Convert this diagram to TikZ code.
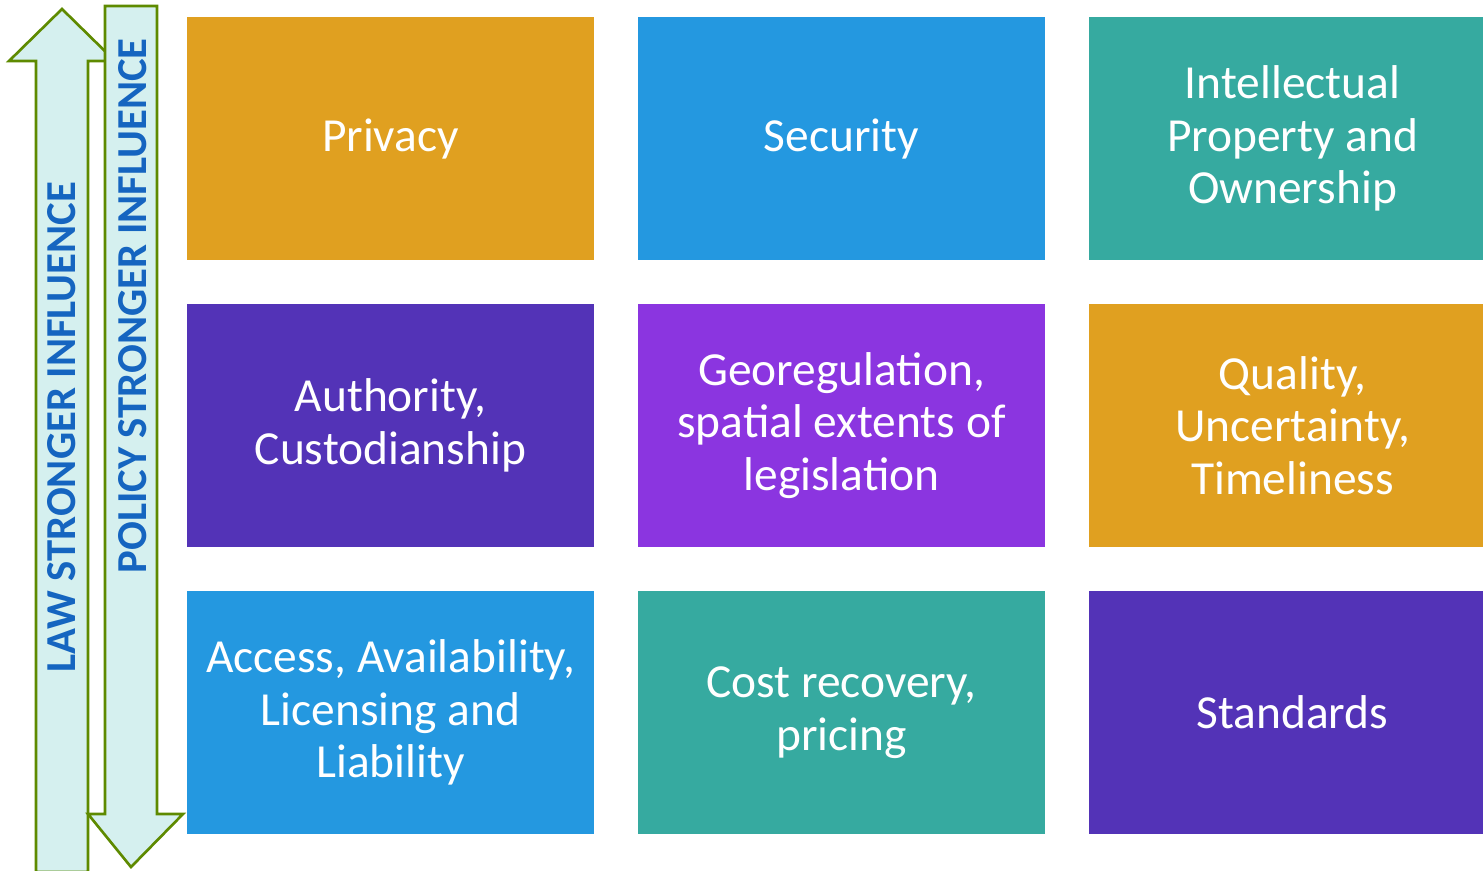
\documentclass[tikz,border=0pt]{standalone}
\usepackage{xcolor}
\usepackage{fontspec}
\setmainfont{Carlito}
\usetikzlibrary{positioning}

\definecolor{gold}{HTML}{E0A020}
\definecolor{sky}{HTML}{2498E0}
\definecolor{sea}{HTML}{36AAA0}
\definecolor{indigo}{HTML}{5333B7}
\definecolor{violet}{HTML}{8B35E0}
\definecolor{pale}{HTML}{D5F0EF}
\definecolor{olive}{HTML}{5E8A00}
\definecolor{ink}{HTML}{1565C0}

\tikzset{
  tile/.style={minimum width=8.14cm, minimum height=4.86cm, text=white,
    align=center, inner sep=0pt,
    font=\fontsize{27}{30}\selectfont},
  band/.style={fill=pale, draw=olive, line width=1.5pt, line join=miter},
  bandtext/.style={text=ink, rotate=90, font=\fontsize{24.3}{30}\selectfont\bfseries}
}

\begin{document}
\begin{tikzpicture}[x=0.02cm,y=-0.02cm]
\useasboundingbox (0,0) rectangle (1483,870);
% law arrow, pointing up
\draw[band] (36,872) -- (36,61) -- (9,61) -- (62,9) -- (115,61) -- (88,61) -- (88,872) -- cycle;
% policy arrow, pointing down
\draw[band] (105,6) -- (157,6) -- (157,814) -- (183,814) -- (131,867) -- (88,814) -- (105,814) -- cycle;
\node[bandtext] (law) at (62,427) {LAW STRONGER INFLUENCE};
\node[bandtext] (policy) at (133,306) {POLICY STRONGER INFLUENCE};

\node[tile, fill=gold] (privacy) at (390.5,138.5) {Privacy};
\node[tile, fill=sky] (security) at (841.5,138.5) {Security};
\node[tile, fill=sea] (ip) at (1292.5,138.5) {Intellectual\\Property and\\Ownership};

\node[tile, fill=indigo] (authority) at (390.5,425.5) {Authority,\\Custodianship};
\node[tile, fill=violet] (georeg) at (841.5,425.5) {Georegulation,\\spatial extents of\\legislation};
\node[tile, fill=gold] (quality) at (1292.5,425.5) {Quality,\\Uncertainty,\\Timeliness};

\node[tile, fill=sky] (access) at (390.5,712.5) {Access, Availability,\\Licensing and\\Liability};
\node[tile, fill=sea] (cost) at (841.5,712.5) {Cost recovery,\\pricing};
\node[tile, fill=indigo] (standards) at (1292.5,712.5) {Standards};
\end{tikzpicture}
\end{document}
